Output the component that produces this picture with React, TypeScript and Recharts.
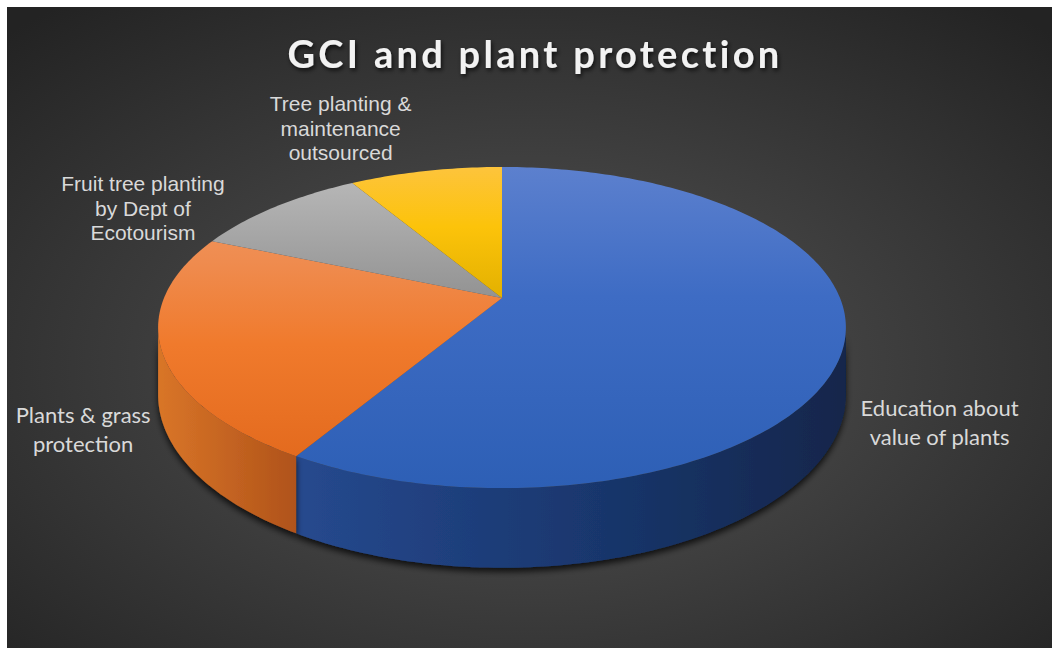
import { Pie, PieChart } from 'recharts'

const categories = [
  'Education about value of plants',
  'Plants & grass protection',
  'Fruit tree planting by Dept of Ecotourism',
  'Tree planting & maintenance outsourced',
]
const values = [41, 16, 7, 6]
const labelLines = [
  ['Education about', 'value of plants'],
  ['Plants & grass', 'protection'],
  ['Fruit tree planting', 'by Dept of', 'Ecotourism'],
  ['Tree planting &', 'maintenance', 'outsourced'],
]

const data = categories.map((name, i) => ({ name, value: values[i] }))

// look & layout
const W = 1054
const H = 648
const TILT = 0.459 // vertical squash of the disc
const PERSP = -0.184 // near edge looks bigger
const DEPTH = 65
const FRONT_RIGHT = (Math.asin(PERSP) * 180) / Math.PI
const FRONT_LEFT = -180 - FRONT_RIGHT

const topFill = ['url(#topBlue)', 'url(#topOrange)', 'url(#topGray)', 'url(#topYellow)']
const sideFill = ['url(#sideBlue)', 'url(#sideOrange)', 'url(#sideGray)', 'url(#sideYellow)']
const labelStyle = [
  { dx: 95, dy: 80, font: 'Lato, sans-serif', size: 22, lh: 29 },
  { dx: -78, dy: 80, font: 'Lato, sans-serif', size: 22, lh: 29 },
  { dx: -132, dy: 1, font: '"Liberation Sans", Arial, sans-serif', size: 21, lh: 24.5 },
  { dx: -85, dy: -43, font: '"Liberation Sans", Arial, sans-serif', size: 21, lh: 24.5 },
]

function project(cx: number, cy: number, r: number, deg: number) {
  const t = (deg * Math.PI) / 180
  const u = Math.cos(t)
  const w = -Math.sin(t)
  const d = 1 + PERSP * w
  return { x: cx + (r * u) / d, y: cy + (r * TILT * w) / d, drop: DEPTH / d }
}

function arcPoints(cx: number, cy: number, r: number, from: number, to: number) {
  const steps = Math.max(2, Math.ceil(Math.abs(from - to)))
  const pts = []
  for (let i = 0; i <= steps; i++) pts.push(project(cx, cy, r, from + ((to - from) * i) / steps))
  return pts
}

function indexOf(props: any) {
  const name = props.payload?.name ?? props.name
  return Math.max(0, categories.indexOf(name))
}

function Slice(props: any) {
  const { cx, cy, outerRadius, startAngle, endAngle } = props
  const i = indexOf(props)
  const top = arcPoints(cx, cy, outerRadius, startAngle, endAngle)
  const topPath = `M${cx},${cy} ` + top.map((p) => `L${p.x},${p.y}`).join(' ') + ' Z'

  let side = null
  const hi = Math.min(startAngle, FRONT_RIGHT)
  const lo = Math.max(endAngle, FRONT_LEFT)
  if (hi > lo) {
    const edge = arcPoints(cx, cy, outerRadius, hi, lo)
    const d =
      'M' +
      edge.map((p) => `${p.x},${p.y}`).join(' L') +
      ' ' +
      edge
        .slice()
        .reverse()
        .map((p) => `L${p.x},${p.y + p.drop}`)
        .join(' ') +
      ' Z'
    side = <path d={d} fill={sideFill[i]} filter="url(#pieShadow)" />
  }
  return (
    <g>
      {side}
      <path d={topPath} fill={topFill[i]} />
    </g>
  )
}

function renderLabel(props: any) {
  const { cx, cy, outerRadius, midAngle } = props
  const i = indexOf(props)
  const edge = project(cx, cy, outerRadius, midAngle)
  const st = labelStyle[i]
  const lines = labelLines[i]
  const x = edge.x + st.dx
  const y0 = edge.y + st.dy - ((lines.length - 1) * st.lh) / 2
  return (
    <text
      key={categories[i]}
      x={x}
      y={y0}
      textAnchor="middle"
      dominantBaseline="central"
      fill="#d9d9d9"
      style={{ fontFamily: st.font, fontSize: st.size }}
    >
      {lines.map((line, k) => (
        <tspan key={k} x={x} y={y0 + k * st.lh}>
          {line}
        </tspan>
      ))}
    </text>
  )
}

export default function App() {
  return (
    <div style={{ position: 'relative', width: W, height: H, background: '#fff' }}>
      <style>{'body{margin:0}'}</style>
      <svg width={W} height={H} style={{ position: 'absolute', left: 0, top: 0 }}>
        <defs>
          <radialGradient id="bg" cx="0.5" cy="0.56" r="0.72">
            <stop offset="0" stopColor="#565656" />
            <stop offset="1" stopColor="#232323" />
          </radialGradient>
          <linearGradient id="topBlue" gradientUnits="userSpaceOnUse" x1="0" y1="167" x2="0" y2="490">
            <stop offset="0" stopColor="#5c80ce" />
            <stop offset="0.4" stopColor="#3e6cc4" />
            <stop offset="1" stopColor="#2d5fb5" />
          </linearGradient>
          <linearGradient id="topOrange" gradientUnits="userSpaceOnUse" x1="0" y1="167" x2="0" y2="490">
            <stop offset="0" stopColor="#f09c6a" />
            <stop offset="0.3" stopColor="#ef8b4e" />
            <stop offset="0.55" stopColor="#f07a2c" />
            <stop offset="1" stopColor="#e0661a" />
          </linearGradient>
          <linearGradient id="topGray" gradientUnits="userSpaceOnUse" x1="0" y1="167" x2="0" y2="300">
            <stop offset="0" stopColor="#bbbbbb" />
            <stop offset="1" stopColor="#929292" />
          </linearGradient>
          <linearGradient id="topYellow" gradientUnits="userSpaceOnUse" x1="0" y1="167" x2="0" y2="300">
            <stop offset="0" stopColor="#fdc43c" />
            <stop offset="0.45" stopColor="#fcc30a" />
            <stop offset="1" stopColor="#e2b000" />
          </linearGradient>
          <linearGradient id="sideBlue" x1="0" y1="0" x2="1" y2="0">
            <stop offset="0" stopColor="#26498e" />
            <stop offset="0.5" stopColor="#1a3870" />
            <stop offset="1" stopColor="#12264b" />
          </linearGradient>
          <linearGradient id="sideOrange" x1="0" y1="0" x2="1" y2="0">
            <stop offset="0" stopColor="#d97528" />
            <stop offset="1" stopColor="#b0531a" />
          </linearGradient>
          <linearGradient id="sideGray" x1="0" y1="0" x2="1" y2="0">
            <stop offset="0" stopColor="#7a7a7a" />
            <stop offset="1" stopColor="#5a5a5a" />
          </linearGradient>
          <linearGradient id="sideYellow" x1="0" y1="0" x2="1" y2="0">
            <stop offset="0" stopColor="#c89a00" />
            <stop offset="1" stopColor="#9c7800" />
          </linearGradient>
          <filter id="pieShadow" x="-10%" y="-20%" width="120%" height="160%">
            <feDropShadow dx="0" dy="4" stdDeviation="3" floodColor="#000" floodOpacity="0.75" />
          </filter>
          <filter id="titleShadow" x="-10%" y="-30%" width="120%" height="170%">
            <feDropShadow dx="1.5" dy="2.5" stdDeviation="2" floodColor="#000" floodOpacity="0.7" />
          </filter>
        </defs>
        <rect x={7} y={7} width={1045} height={641} fill="url(#bg)" />
        <text
          x={535}
          y={68}
          textAnchor="middle"
          fill="#f2f2f2"
          fontFamily="Lato, sans-serif"
          fontWeight={700}
          fontSize={38}
          letterSpacing={3.3}
          filter="url(#titleShadow)"
        >
          GCI and plant protection
        </text>
      </svg>
      <div style={{ position: 'absolute', left: 0, top: 0 }}>
        <PieChart width={W} height={H} margin={{ top: 0, right: 0, bottom: 0, left: 0 }}>
          <Pie
            data={data}
            dataKey="value"
            nameKey="name"
            cx={502}
            cy={298}
            outerRadius={338}
            startAngle={90}
            endAngle={-270}
            stroke="none"
            isAnimationActive={false}
            shape={Slice}
            label={renderLabel}
            labelLine={false}
          />
        </PieChart>
      </div>
    </div>
  )
}
